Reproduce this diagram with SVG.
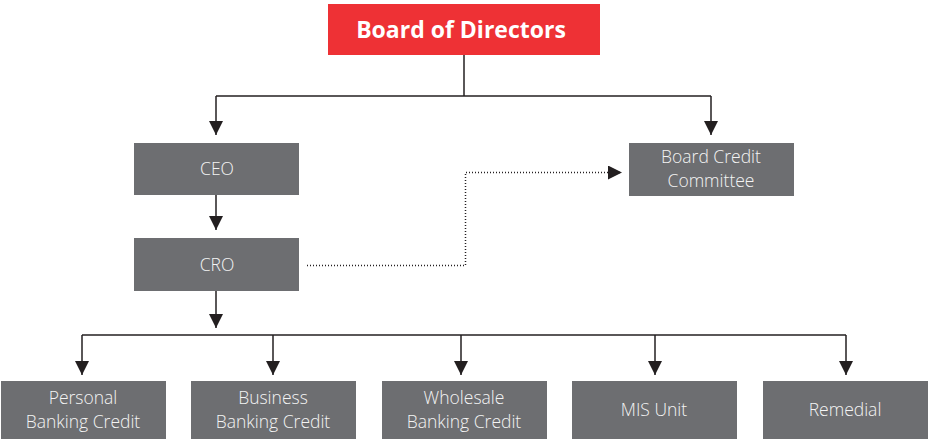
<svg xmlns="http://www.w3.org/2000/svg" width="928" height="439" viewBox="0 0 928 439">
  <style>
    .box { fill: #6d6e71; }
    .title { fill: #ee3135; }
    .lbl { font-family: "Open Sans", "Noto Sans", sans-serif; font-size: 17.5px; font-weight: 300; fill: #f4f4f4; text-anchor: middle; }
    .ttl { font-family: "Open Sans", "Noto Sans", sans-serif; font-size: 23px; font-weight: bold; fill: #ffffff; text-anchor: middle; }
    .ln { fill: none; stroke: #231f20; stroke-width: 1.5; }
    .dot { fill: none; stroke: #231f20; stroke-width: 1.5; stroke-dasharray: 1 2; }
  </style>
  <defs>
    <marker id="arrow" viewBox="0 0 14 14" refX="14" refY="7" markerWidth="14" markerHeight="14" markerUnits="userSpaceOnUse" orient="auto">
      <path d="M0,0 L14,7 L0,14 Z" fill="#231f20"/>
    </marker>
  </defs>

  <rect width="928" height="439" fill="#ffffff"/>

  <g id="connectors">
    <!-- Board to CEO and Board Credit Committee -->
    <path class="ln" d="M464,55 V96"/>
    <path class="ln" d="M216,96 H711"/>
    <path class="ln" d="M216,96 V135" marker-end="url(#arrow)"/>
    <path class="ln" d="M711,96 V135" marker-end="url(#arrow)"/>
    <!-- CEO to CRO -->
    <path class="ln" d="M216,195 V230" marker-end="url(#arrow)"/>
    <!-- CRO dotted reporting line -->
    <path class="dot" d="M307,265.5 H465.5 V172.5 H622" marker-end="url(#arrow)"/>
    <!-- CRO to units -->
    <path class="ln" d="M216,291 V328" marker-end="url(#arrow)"/>
    <path class="ln" d="M82,335 H846"/>
    <path class="ln" d="M82,335 V375" marker-end="url(#arrow)"/>
    <path class="ln" d="M273,335 V375" marker-end="url(#arrow)"/>
    <path class="ln" d="M461,335 V375" marker-end="url(#arrow)"/>
    <path class="ln" d="M655,335 V375" marker-end="url(#arrow)"/>
    <path class="ln" d="M846,335 V375" marker-end="url(#arrow)"/>
  </g>

  <g id="board">
    <rect class="title" x="328" y="4" width="272" height="51"/>
    <text class="ttl" x="461" y="38">Board of Directors</text>
  </g>

  <g id="ceo">
    <rect class="box" x="134" y="143" width="165" height="52"/>
    <text class="lbl" x="217" y="175">CEO</text>
  </g>

  <g id="cro">
    <rect class="box" x="134" y="238" width="165" height="53"/>
    <text class="lbl" x="217" y="271">CRO</text>
  </g>

  <g id="board-credit-committee">
    <rect class="box" x="629" y="143" width="165" height="53"/>
    <text class="lbl" x="711" y="163">Board Credit</text>
    <text class="lbl" x="711" y="187">Committee</text>
  </g>

  <g id="personal-banking-credit">
    <rect class="box" x="1" y="381" width="165" height="60"/>
    <text class="lbl" x="83" y="404">Personal</text>
    <text class="lbl" x="83" y="428">Banking Credit</text>
  </g>

  <g id="business-banking-credit">
    <rect class="box" x="191" y="381" width="165" height="60"/>
    <text class="lbl" x="273" y="404">Business</text>
    <text class="lbl" x="273" y="428">Banking Credit</text>
  </g>

  <g id="wholesale-banking-credit">
    <rect class="box" x="382" y="381" width="165" height="60"/>
    <text class="lbl" x="464" y="404">Wholesale</text>
    <text class="lbl" x="464" y="428">Banking Credit</text>
  </g>

  <g id="mis-unit">
    <rect class="box" x="572" y="381" width="165" height="60"/>
    <text class="lbl" x="654" y="416">MIS Unit</text>
  </g>

  <g id="remedial">
    <rect class="box" x="763" y="381" width="165" height="60"/>
    <text class="lbl" x="845" y="416">Remedial</text>
  </g>
</svg>
